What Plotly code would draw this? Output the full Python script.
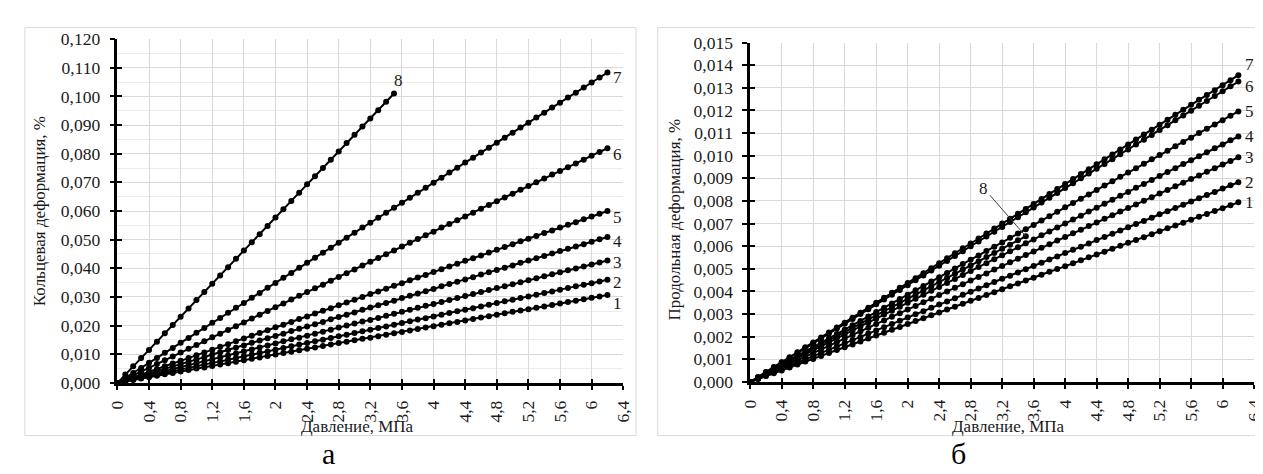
import plotly.graph_objects as go

# ---------------- data ----------------
PRESSURE = [
    0.0, 0.1, 0.2, 0.3, 0.4, 0.5, 0.6, 0.7, 0.8, 0.9,
    1.0, 1.1, 1.2, 1.3, 1.4, 1.5, 1.6, 1.7, 1.8, 1.9,
    2.0, 2.1, 2.2, 2.3, 2.4, 2.5, 2.6, 2.7, 2.8, 2.9,
    3.0, 3.1, 3.2, 3.3, 3.4, 3.5, 3.6, 3.7, 3.8, 3.9,
    4.0, 4.1, 4.2, 4.3, 4.4, 4.5, 4.6, 4.7, 4.8, 4.9,
    5.0, 5.1, 5.2, 5.3, 5.4, 5.5, 5.6, 5.7, 5.8, 5.9,
    6.0, 6.1, 6.2,
]
PRESSURE_8 = PRESSURE[:36]  # series 8 stops at 3,5 MPa

# chart "а": hoop strain, %
HOOP_1 = [0, 0.0005, 0.0010, 0.0015, 0.0020, 0.0025, 0.0030, 0.0035, 0.0040, 0.0045,
          0.0050, 0.0054, 0.0059, 0.0064, 0.0069, 0.0074, 0.0079, 0.0084, 0.0089, 0.0094,
          0.0099, 0.0104, 0.0109, 0.0114, 0.0119, 0.0124, 0.0129, 0.0134, 0.0139, 0.0144,
          0.0149, 0.0154, 0.0158, 0.0163, 0.0168, 0.0173, 0.0178, 0.0183, 0.0188, 0.0193,
          0.0198, 0.0203, 0.0208, 0.0213, 0.0218, 0.0223, 0.0228, 0.0233, 0.0238, 0.0243,
          0.0248, 0.0253, 0.0257, 0.0262, 0.0267, 0.0272, 0.0277, 0.0282, 0.0287, 0.0292,
          0.0297, 0.0302, 0.0307]
HOOP_2 = [0, 0.0006, 0.0012, 0.0017, 0.0023, 0.0029, 0.0035, 0.0041, 0.0046, 0.0052,
          0.0058, 0.0064, 0.0070, 0.0075, 0.0081, 0.0087, 0.0093, 0.0099, 0.0105, 0.0110,
          0.0116, 0.0122, 0.0128, 0.0134, 0.0139, 0.0145, 0.0151, 0.0157, 0.0163, 0.0168,
          0.0174, 0.0180, 0.0186, 0.0192, 0.0197, 0.0203, 0.0209, 0.0215, 0.0221, 0.0226,
          0.0232, 0.0238, 0.0244, 0.0250, 0.0255, 0.0261, 0.0267, 0.0273, 0.0279, 0.0285,
          0.0290, 0.0296, 0.0302, 0.0308, 0.0314, 0.0319, 0.0325, 0.0331, 0.0337, 0.0343,
          0.0348, 0.0354, 0.0360]
HOOP_3 = [0, 0.0007, 0.0014, 0.0021, 0.0028, 0.0034, 0.0041, 0.0048, 0.0055, 0.0062,
          0.0069, 0.0076, 0.0083, 0.0090, 0.0096, 0.0103, 0.0110, 0.0117, 0.0124, 0.0131,
          0.0138, 0.0145, 0.0152, 0.0158, 0.0165, 0.0172, 0.0179, 0.0186, 0.0193, 0.0200,
          0.0207, 0.0214, 0.0220, 0.0227, 0.0234, 0.0241, 0.0248, 0.0255, 0.0262, 0.0269,
          0.0275, 0.0282, 0.0289, 0.0296, 0.0303, 0.0310, 0.0317, 0.0324, 0.0331, 0.0337,
          0.0344, 0.0351, 0.0358, 0.0365, 0.0372, 0.0379, 0.0386, 0.0393, 0.0399, 0.0406,
          0.0413, 0.0420, 0.0427]
HOOP_4 = [0, 0.0008, 0.0016, 0.0025, 0.0033, 0.0041, 0.0049, 0.0057, 0.0066, 0.0074,
          0.0082, 0.0090, 0.0099, 0.0107, 0.0115, 0.0123, 0.0131, 0.0140, 0.0148, 0.0156,
          0.0164, 0.0172, 0.0181, 0.0189, 0.0197, 0.0205, 0.0213, 0.0222, 0.0230, 0.0238,
          0.0246, 0.0255, 0.0263, 0.0271, 0.0279, 0.0287, 0.0296, 0.0304, 0.0312, 0.0320,
          0.0328, 0.0337, 0.0345, 0.0353, 0.0361, 0.0369, 0.0378, 0.0386, 0.0394, 0.0402,
          0.0410, 0.0419, 0.0427, 0.0435, 0.0443, 0.0452, 0.0460, 0.0468, 0.0476, 0.0484,
          0.0493, 0.0501, 0.0509]
HOOP_5 = [0, 0.0010, 0.0019, 0.0029, 0.0039, 0.0048, 0.0058, 0.0068, 0.0077, 0.0087,
          0.0097, 0.0106, 0.0116, 0.0126, 0.0135, 0.0145, 0.0155, 0.0165, 0.0174, 0.0184,
          0.0194, 0.0203, 0.0213, 0.0223, 0.0232, 0.0242, 0.0252, 0.0261, 0.0271, 0.0281,
          0.0290, 0.0300, 0.0310, 0.0319, 0.0329, 0.0339, 0.0348, 0.0358, 0.0368, 0.0377,
          0.0387, 0.0397, 0.0406, 0.0416, 0.0426, 0.0435, 0.0445, 0.0455, 0.0465, 0.0474,
          0.0484, 0.0494, 0.0503, 0.0513, 0.0523, 0.0532, 0.0542, 0.0552, 0.0561, 0.0571,
          0.0581, 0.0590, 0.0600]
HOOP_6 = [0, 0.0013, 0.0026, 0.0040, 0.0053, 0.0066, 0.0079, 0.0092, 0.0106, 0.0119,
          0.0132, 0.0145, 0.0159, 0.0172, 0.0185, 0.0198, 0.0211, 0.0225, 0.0238, 0.0251,
          0.0264, 0.0277, 0.0291, 0.0304, 0.0317, 0.0330, 0.0343, 0.0357, 0.0370, 0.0383,
          0.0396, 0.0410, 0.0423, 0.0436, 0.0449, 0.0462, 0.0476, 0.0489, 0.0502, 0.0515,
          0.0528, 0.0542, 0.0555, 0.0568, 0.0581, 0.0594, 0.0608, 0.0621, 0.0634, 0.0647,
          0.0660, 0.0674, 0.0687, 0.0700, 0.0713, 0.0727, 0.0740, 0.0753, 0.0766, 0.0779,
          0.0793, 0.0806, 0.0819]
HOOP_7 = [0, 0.0017, 0.0035, 0.0052, 0.0070, 0.0087, 0.0105, 0.0122, 0.0140, 0.0157,
          0.0175, 0.0192, 0.0210, 0.0227, 0.0245, 0.0262, 0.0279, 0.0297, 0.0314, 0.0332,
          0.0349, 0.0367, 0.0384, 0.0402, 0.0419, 0.0437, 0.0454, 0.0472, 0.0489, 0.0507,
          0.0524, 0.0542, 0.0559, 0.0576, 0.0594, 0.0611, 0.0629, 0.0646, 0.0664, 0.0681,
          0.0699, 0.0716, 0.0734, 0.0751, 0.0769, 0.0786, 0.0804, 0.0821, 0.0838, 0.0856,
          0.0873, 0.0891, 0.0908, 0.0926, 0.0943, 0.0961, 0.0978, 0.0996, 0.1013, 0.1031,
          0.1048, 0.1066, 0.1083]
HOOP_8 = [0, 0.0029, 0.0058, 0.0087, 0.0115, 0.0144, 0.0173, 0.0202, 0.0231, 0.0260,
          0.0289, 0.0317, 0.0346, 0.0375, 0.0404, 0.0433, 0.0462, 0.0491, 0.0519, 0.0548,
          0.0577, 0.0606, 0.0635, 0.0664, 0.0693, 0.0721, 0.0750, 0.0779, 0.0808, 0.0837,
          0.0866, 0.0895, 0.0923, 0.0952, 0.0981, 0.1010]

# chart "б": longitudinal strain, %
AXIAL_1 = [0, 0.00013, 0.00026, 0.00038, 0.00051, 0.00064, 0.00077, 0.00090, 0.00102, 0.00115,
           0.00128, 0.00141, 0.00154, 0.00166, 0.00179, 0.00192, 0.00205, 0.00218, 0.00231, 0.00243,
           0.00256, 0.00269, 0.00282, 0.00295, 0.00307, 0.00320, 0.00333, 0.00346, 0.00359, 0.00371,
           0.00384, 0.00397, 0.00410, 0.00423, 0.00435, 0.00448, 0.00461, 0.00474, 0.00487, 0.00499,
           0.00512, 0.00525, 0.00538, 0.00551, 0.00563, 0.00576, 0.00589, 0.00602, 0.00615, 0.00628,
           0.00640, 0.00653, 0.00666, 0.00679, 0.00692, 0.00704, 0.00717, 0.00730, 0.00743, 0.00756,
           0.00768, 0.00781, 0.00794]
AXIAL_2 = [0, 0.00014, 0.00028, 0.00043, 0.00057, 0.00071, 0.00085, 0.00100, 0.00114, 0.00128,
           0.00142, 0.00157, 0.00171, 0.00185, 0.00199, 0.00214, 0.00228, 0.00242, 0.00256, 0.00271,
           0.00285, 0.00299, 0.00313, 0.00328, 0.00342, 0.00356, 0.00370, 0.00385, 0.00399, 0.00413,
           0.00427, 0.00442, 0.00456, 0.00470, 0.00484, 0.00498, 0.00513, 0.00527, 0.00541, 0.00555,
           0.00570, 0.00584, 0.00598, 0.00612, 0.00627, 0.00641, 0.00655, 0.00669, 0.00684, 0.00698,
           0.00712, 0.00726, 0.00741, 0.00755, 0.00769, 0.00783, 0.00798, 0.00812, 0.00826, 0.00840,
           0.00855, 0.00869, 0.00883]
AXIAL_3 = [0, 0.00016, 0.00032, 0.00048, 0.00064, 0.00080, 0.00096, 0.00112, 0.00128, 0.00144,
           0.00160, 0.00176, 0.00192, 0.00208, 0.00224, 0.00240, 0.00256, 0.00272, 0.00288, 0.00304,
           0.00320, 0.00336, 0.00352, 0.00368, 0.00384, 0.00400, 0.00416, 0.00432, 0.00448, 0.00464,
           0.00480, 0.00497, 0.00513, 0.00529, 0.00545, 0.00561, 0.00577, 0.00593, 0.00609, 0.00625,
           0.00641, 0.00657, 0.00673, 0.00689, 0.00705, 0.00721, 0.00737, 0.00753, 0.00769, 0.00785,
           0.00801, 0.00817, 0.00833, 0.00849, 0.00865, 0.00881, 0.00897, 0.00913, 0.00929, 0.00945,
           0.00961, 0.00977, 0.00993]
AXIAL_4 = [0, 0.00018, 0.00035, 0.00053, 0.00070, 0.00088, 0.00105, 0.00123, 0.00140, 0.00158,
           0.00175, 0.00193, 0.00210, 0.00228, 0.00245, 0.00263, 0.00280, 0.00298, 0.00315, 0.00333,
           0.00350, 0.00368, 0.00385, 0.00403, 0.00420, 0.00438, 0.00455, 0.00473, 0.00490, 0.00508,
           0.00525, 0.00543, 0.00560, 0.00578, 0.00595, 0.00613, 0.00630, 0.00648, 0.00665, 0.00683,
           0.00700, 0.00718, 0.00735, 0.00753, 0.00770, 0.00788, 0.00805, 0.00823, 0.00840, 0.00858,
           0.00875, 0.00893, 0.00910, 0.00928, 0.00945, 0.00963, 0.00980, 0.00998, 0.01015, 0.01033,
           0.01050, 0.01068, 0.01085]
AXIAL_5 = [0, 0.00019, 0.00039, 0.00058, 0.00077, 0.00096, 0.00116, 0.00135, 0.00154, 0.00174,
           0.00193, 0.00212, 0.00231, 0.00251, 0.00270, 0.00289, 0.00309, 0.00328, 0.00347, 0.00367,
           0.00386, 0.00405, 0.00424, 0.00444, 0.00463, 0.00482, 0.00502, 0.00521, 0.00540, 0.00559,
           0.00579, 0.00598, 0.00617, 0.00637, 0.00656, 0.00675, 0.00694, 0.00714, 0.00733, 0.00752,
           0.00772, 0.00791, 0.00810, 0.00829, 0.00849, 0.00868, 0.00887, 0.00907, 0.00926, 0.00945,
           0.00965, 0.00984, 0.01003, 0.01022, 0.01042, 0.01061, 0.01080, 0.01100, 0.01119, 0.01138,
           0.01157, 0.01177, 0.01196]
AXIAL_6 = [0, 0.00021, 0.00043, 0.00064, 0.00086, 0.00107, 0.00129, 0.00150, 0.00171, 0.00193,
           0.00214, 0.00236, 0.00257, 0.00278, 0.00300, 0.00321, 0.00343, 0.00364, 0.00386, 0.00407,
           0.00428, 0.00450, 0.00471, 0.00493, 0.00514, 0.00535, 0.00557, 0.00578, 0.00600, 0.00621,
           0.00643, 0.00664, 0.00685, 0.00707, 0.00728, 0.00750, 0.00771, 0.00793, 0.00814, 0.00835,
           0.00857, 0.00878, 0.00900, 0.00921, 0.00942, 0.00964, 0.00985, 0.01007, 0.01028, 0.01050,
           0.01071, 0.01092, 0.01114, 0.01135, 0.01157, 0.01178, 0.01199, 0.01221, 0.01242, 0.01264,
           0.01285, 0.01307, 0.01328]
AXIAL_7 = [0, 0.00022, 0.00044, 0.00066, 0.00087, 0.00109, 0.00131, 0.00153, 0.00175, 0.00197,
           0.00219, 0.00241, 0.00262, 0.00284, 0.00306, 0.00328, 0.00350, 0.00372, 0.00394, 0.00416,
           0.00437, 0.00459, 0.00481, 0.00503, 0.00525, 0.00547, 0.00569, 0.00591, 0.00612, 0.00634,
           0.00656, 0.00678, 0.00700, 0.00722, 0.00744, 0.00765, 0.00787, 0.00809, 0.00831, 0.00853,
           0.00875, 0.00897, 0.00919, 0.00940, 0.00962, 0.00984, 0.01006, 0.01028, 0.01050, 0.01072,
           0.01094, 0.01115, 0.01137, 0.01159, 0.01181, 0.01203, 0.01225, 0.01247, 0.01269, 0.01290,
           0.01312, 0.01334, 0.01356]
AXIAL_8 = [0, 0.00018, 0.00037, 0.00055, 0.00074, 0.00092, 0.00110, 0.00129, 0.00147, 0.00166,
           0.00184, 0.00202, 0.00221, 0.00239, 0.00258, 0.00276, 0.00294, 0.00313, 0.00331, 0.00350,
           0.00368, 0.00386, 0.00405, 0.00423, 0.00442, 0.00460, 0.00478, 0.00497, 0.00515, 0.00534,
           0.00552, 0.00570, 0.00589, 0.00607, 0.00626, 0.00644]

SERIES_NAMES = ["1", "2", "3", "4", "5", "6", "7", "8"]
HOOP = [HOOP_1, HOOP_2, HOOP_3, HOOP_4, HOOP_5, HOOP_6, HOOP_7, HOOP_8]
AXIAL = [AXIAL_1, AXIAL_2, AXIAL_3, AXIAL_4, AXIAL_5, AXIAL_6, AXIAL_7, AXIAL_8]

X_TICKS = [0, 0.4, 0.8, 1.2, 1.6, 2.0, 2.4, 2.8, 3.2, 3.6, 4.0, 4.4, 4.8, 5.2, 5.6, 6.0, 6.4]
X_TICK_TEXT = ["0", "0,4", "0,8", "1,2", "1,6", "2", "2,4", "2,8", "3,2", "3,6",
               "4", "4,4", "4,8", "5,2", "5,6", "6", "6,4"]

X_TITLE = "Давление, МПа"
Y_TITLE_A = "Кольцевая деформация, %"
Y_TITLE_B = "Продольная деформация, %"
PANEL_A = "а"
PANEL_B = "б"

# ---------------- figure ----------------
W, H = 1263, 474
FONT = "Liberation Serif"
TXT = "#1a1a1a"


def fx(px):
    return px / W


def fy(py):
    return 1 - py / H


fig = go.Figure()

line_style = dict(color="black", width=2)
marker_style = dict(color="black", size=6, symbol="circle")


def xs_for(i):
    return PRESSURE_8 if i == 7 else PRESSURE


for i, ys in enumerate(HOOP):
    fig.add_trace(go.Scatter(x=xs_for(i), y=ys, mode="lines+markers", name=SERIES_NAMES[i],
                             line=line_style, marker=marker_style, cliponaxis=False,
                             xaxis="x", yaxis="y", showlegend=False))
for i, ys in enumerate(AXIAL):
    fig.add_trace(go.Scatter(x=xs_for(i), y=ys, mode="lines+markers", name=SERIES_NAMES[i],
                             line=line_style, marker=marker_style, cliponaxis=False,
                             xaxis="x2", yaxis="y2", showlegend=False))

# dummy traces for the overlay axes that draw the inner half of the crossing ticks
fig.add_trace(go.Scatter(x=[None], y=[None], xaxis="x3", yaxis="y3", showlegend=False, hoverinfo="skip"))
fig.add_trace(go.Scatter(x=[None], y=[None], xaxis="x4", yaxis="y4", showlegend=False, hoverinfo="skip"))

tickfont = dict(family=FONT, size=17.5, color=TXT)

common_x = dict(range=[0, 6.4], tickmode="array", tickvals=X_TICKS, ticktext=X_TICK_TEXT,
                tickangle=-90, ticks="outside", ticklen=4, tickwidth=2, tickcolor="black",
                showline=True, linecolor="black", linewidth=2.5, showgrid=True,
                gridcolor="#d9d9d9", gridwidth=1, zeroline=False, tickfont=tickfont,
                ticklabelstandoff=4, fixedrange=True)
common_y = dict(ticks="outside", ticklen=5, tickwidth=2, tickcolor="black", showline=True,
                linecolor="black", linewidth=2.5, showgrid=True, gridcolor="#d9d9d9",
                gridwidth=1, zeroline=False, tickfont=tickfont, tickformat=".3f",
                ticklabelstandoff=6, fixedrange=True)
inner_x = dict(range=[0, 6.4], tickmode="array", tickvals=X_TICKS, ticks="inside", ticklen=4,
               tickwidth=2, tickcolor="black", showticklabels=False, showgrid=False,
               showline=False, zeroline=False, fixedrange=True)
inner_y = dict(ticks="inside", ticklen=5, tickwidth=2, tickcolor="black", showticklabels=False,
               showgrid=False, showline=False, zeroline=False, fixedrange=True)

fig.update_layout(
    width=W, height=H, margin=dict(l=0, r=0, t=0, b=0),
    paper_bgcolor="white", plot_bgcolor="white", separators=", ",
    showlegend=False, font=dict(family=FONT, color=TXT),
    xaxis=dict(domain=[fx(101), fx(615)], anchor="y", **common_x),
    yaxis=dict(domain=[fy(381), fy(22)], anchor="x", range=[0, 0.12], dtick=0.01,
               minor=dict(dtick=0.005, showgrid=True, gridcolor="#ebebeb", gridwidth=1),
               **common_y),
    xaxis2=dict(domain=[fx(744), fx(1256)], anchor="y2", **common_x),
    yaxis2=dict(domain=[fy(380), fy(25.7)], anchor="x2", range=[0, 0.015], dtick=0.001,
                **common_y),
    xaxis3=dict(overlaying="x", anchor="y3", **inner_x),
    yaxis3=dict(overlaying="y", anchor="x3", range=[0, 0.12], dtick=0.01, **inner_y),
    xaxis4=dict(overlaying="x2", anchor="y4", **inner_x),
    yaxis4=dict(overlaying="y2", anchor="x4", range=[0, 0.015], dtick=0.001, **inner_y),
)

# panel frames
for x0, x1 in [(7, 628), (650, 1261)]:
    fig.add_shape(type="rect", xref="paper", yref="paper", x0=fx(x0), x1=fx(x1),
                  y0=fy(436), y1=fy(10), line=dict(color="#d9d9d9", width=1),
                  fillcolor="rgba(0,0,0,0)", layer="below")

ann_font = dict(family=FONT, size=17, color=TXT)

# axis titles
fig.add_annotation(text=X_TITLE, xref="paper", yref="paper", x=fx(345), y=fy(427),
                   showarrow=False, font=ann_font, xanchor="center", yanchor="middle")
fig.add_annotation(text=X_TITLE, xref="paper", yref="paper", x=fx(1006), y=fy(427),
                   showarrow=False, font=ann_font, xanchor="center", yanchor="middle")
fig.add_annotation(text=Y_TITLE_A, xref="paper", yref="paper", x=fx(22), y=fy(202),
                   showarrow=False, font=ann_font, textangle=-90,
                   xanchor="center", yanchor="middle")
fig.add_annotation(text=Y_TITLE_B, xref="paper", yref="paper", x=fx(667), y=fy(210),
                   showarrow=False, font=ann_font, textangle=-90,
                   xanchor="center", yanchor="middle")

# panel letters
letter_font = dict(family=FONT, size=30, color="black")
fig.add_annotation(text=PANEL_A, xref="paper", yref="paper", x=fx(315), y=fy(455),
                   showarrow=False, font=letter_font, xanchor="center", yanchor="middle")
fig.add_annotation(text=PANEL_B, xref="paper", yref="paper", x=fx(956), y=fy(455),
                   showarrow=False, font=letter_font, xanchor="center", yanchor="middle")

# series labels, chart а
shift_a = [-9, -3, -2, -4, -6, -6, -5]
for i in range(7):
    fig.add_annotation(text=SERIES_NAMES[i], x=PRESSURE[-1], y=HOOP[i][-1], xref="x", yref="y",
                       showarrow=False, font=ann_font, xanchor="left", yanchor="middle",
                       xshift=4, yshift=shift_a[i])
fig.add_annotation(text=SERIES_NAMES[7], x=PRESSURE_8[-1], y=HOOP_8[-1], xref="x", yref="y",
                   showarrow=False, font=ann_font, xanchor="center", yanchor="middle",
                   xshift=4, yshift=13)

# series labels, chart б
shift_b = [0, 0, 0, 0, 0, -5, 11]
for i in range(7):
    fig.add_annotation(text=SERIES_NAMES[i], x=PRESSURE[-1], y=AXIAL[i][-1], xref="x2", yref="y2",
                       showarrow=False, font=ann_font, xanchor="left", yanchor="middle",
                       xshift=5, yshift=shift_b[i])
fig.add_annotation(text=SERIES_NAMES[7], x=PRESSURE_8[-1], y=AXIAL_8[-1], xref="x2", yref="y2",
                   showarrow=True, arrowhead=0, arrowwidth=1, arrowcolor="#404040",
                   ax=-42, ay=-48, standoff=0, font=ann_font)

fig.write_html("out.html")
